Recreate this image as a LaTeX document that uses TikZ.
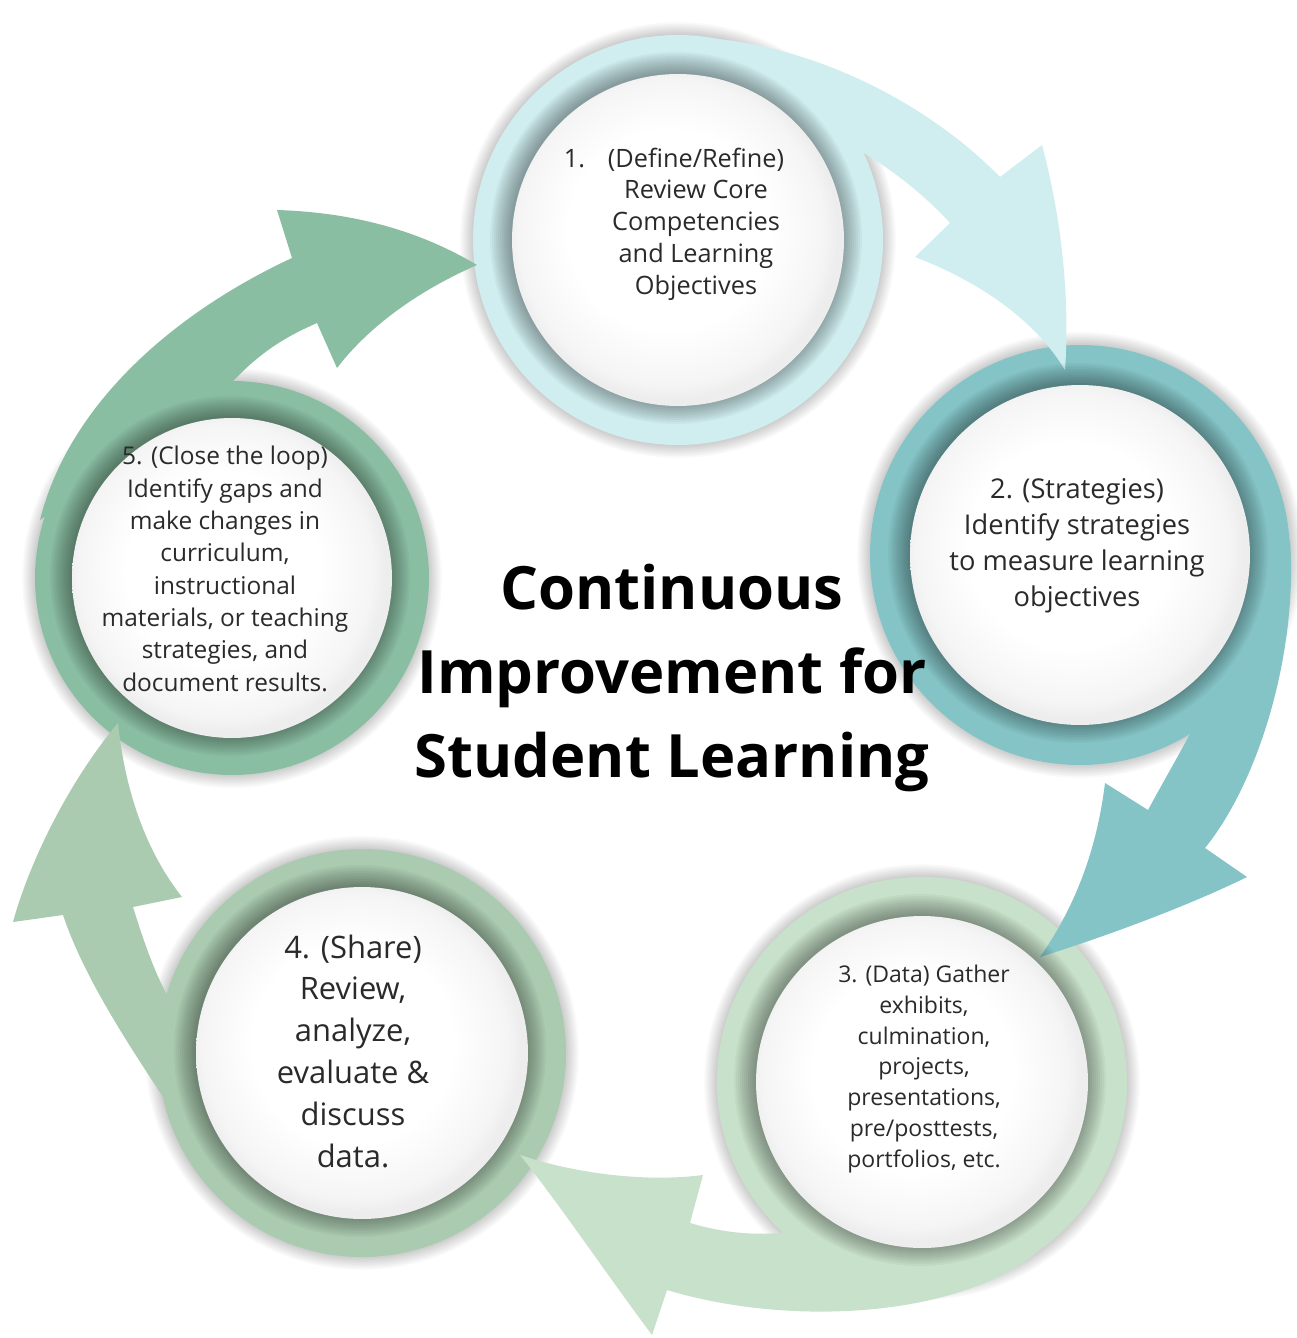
\documentclass[tikz,border=0pt]{standalone}
\usepackage{fontspec}
\setmainfont{Open Sans}

\definecolor{ringA}{HTML}{D0EEF0}
\definecolor{ringB}{HTML}{85C4C6}
\definecolor{ringC}{HTML}{C8E1CA}
\definecolor{ringD}{HTML}{AACBB0}
\definecolor{ringE}{HTML}{8ABEA3}
\definecolor{ink}{HTML}{2A2A2A}
\pgfdeclareradialshading{discshade}{\pgfpoint{-2bp}{2bp}}{%
   color(0bp)=(white); color(15bp)=(white); color(23bp)=(black!4);
   color(25bp)=(black!7); color(50bp)=(black!7)}

\begin{document}
\begin{tikzpicture}[x=0.02cm,y=-0.02cm]
   \tikzstyle{disc}=[circle,draw=none,shading=discshade,inner sep=0pt]
   \tikzstyle{stage}=[text=ink,align=center,inner sep=0pt]
   \tikzstyle{heading}=[text=black,align=center,inner sep=0pt,
      font=\bfseries\fontsize{34}{48}\selectfont]

   \useasboundingbox (0,0) rectangle (1297,1338);
   \fill[white] (0,0) rectangle (1297,1338);

   % centres of the five stages
   \coordinate (p1) at (678,240);
   \coordinate (p2) at (1080,555);
   \coordinate (p3) at (922,1082);
   \coordinate (p4) at (362,1053);
   \coordinate (p5) at (232,578);

   % soft shadow and coloured ring
   \foreach \pp/\rr/\cc in {p1/205/ringA,p2/210/ringB,p3/205/ringC,p4/204/ringD,p5/197/ringE}{
      \foreach \kk in {1,...,8}
         \fill[black,opacity=0.025] (\pp) circle ({\rr+1.6*\kk});
      \fill[\cc] (\pp) circle (\rr);
   }

   % curved arrows, each tail starts inside its own ring
   \fill[ringA] (640,38) .. controls (780,25) and (920,95) .. (1000,177)
      -- (1042,145) .. controls (1062,220) and (1070,300) .. (1065,370)
      .. controls (1035,320) and (980,282) .. (915,257)
      -- (950,223) .. controls (920,190) and (880,160) .. (840,140) -- cycle;
   \fill[ringB] (1290,540) .. controls (1298,650) and (1260,780) .. (1205,848)
      -- (1247,877) .. controls (1190,905) and (1110,935) .. (1040,957)
      .. controls (1080,900) and (1098,840) .. (1105,783)
      -- (1148,810) .. controls (1175,760) and (1200,720) .. (1215,680) -- cycle;
   \fill[ringC] (1050,1240) .. controls (980,1315) and (800,1330) .. (667,1290)
      -- (652,1335) .. controls (600,1265) and (560,1205) .. (520,1155)
      .. controls (580,1175) and (650,1182) .. (703,1175)
      -- (690,1223) .. controls (720,1232) and (760,1238) .. (800,1230) -- cycle;
   \fill[ringD] (240,1216) .. controls (180,1115) and (95,1010) .. (63,915)
      -- (13,922) .. controls (30,860) and (70,780) .. (118,723)
      .. controls (125,790) and (145,850) .. (182,897)
      -- (133,907) .. controls (145,945) and (155,975) .. (175,1010) -- cycle;
   \fill[ringE] (40,520) .. controls (70,400) and (180,310) .. (292,258)
      -- (277,210) .. controls (340,212) and (410,225) .. (477,265)
      .. controls (420,290) and (370,325) .. (337,368)
      -- (317,323) .. controls (290,335) and (260,350) .. (225,390) -- cycle;

   % dark rim inside every ring
   \foreach \pp/\rr in {p1/166,p2/170,p3/166,p4/166,p5/160}
      \foreach \kk in {0,...,10}
         \fill[black,opacity=0.035] ([shift={(-2,-2)}]\pp) circle ({\rr+2*\kk});

   % white discs
   \node[disc,minimum size=6.64cm] (d1) at (p1) {};
   \node[disc,minimum size=6.80cm] (d2) at (p2) {};
   \node[disc,minimum size=6.64cm] (d3) at (p3) {};
   \node[disc,minimum size=6.64cm] (d4) at (p4) {};
   \node[disc,minimum size=6.40cm] (d5) at (p5) {};

   % texts
   \node[stage,font=\fontsize{14.4}{18.1}\selectfont] (t1) at (696,224)
      {\llap{1.\hspace{0.9em}}(Define/Refine)\\Review Core\\Competencies\\and Learning\\Objectives};
   \node[stage,font=\fontsize{15.5}{20.4}\selectfont] (t2) at (1077,546)
      {2. (Strategies)\\Identify strategies\\to measure learning\\objectives};
   \node[stage,font=\fontsize{13.1}{17.6}\selectfont] (t3) at (924,1069)
      {3. (Data) Gather\\exhibits,\\culmination,\\projects,\\presentations,\\pre/posttests,\\portfolios, etc.};
   \node[stage,font=\fontsize{17.6}{23.8}\selectfont] (t4) at (353,1051)
      {4. (Share)\\Review,\\analyze,\\evaluate \&\\discuss\\data.};
   \node[stage,font=\fontsize{13.9}{18.4}\selectfont] (t5) at (225,569)
      {5. (Close the loop)\\Identify gaps and\\make changes in\\curriculum,\\instructional\\materials, or teaching\\strategies, and\\document results.};

   \node[heading] (title) at (672,678) {Continuous\\Improvement for\\Student Learning};
\end{tikzpicture}
\end{document}
